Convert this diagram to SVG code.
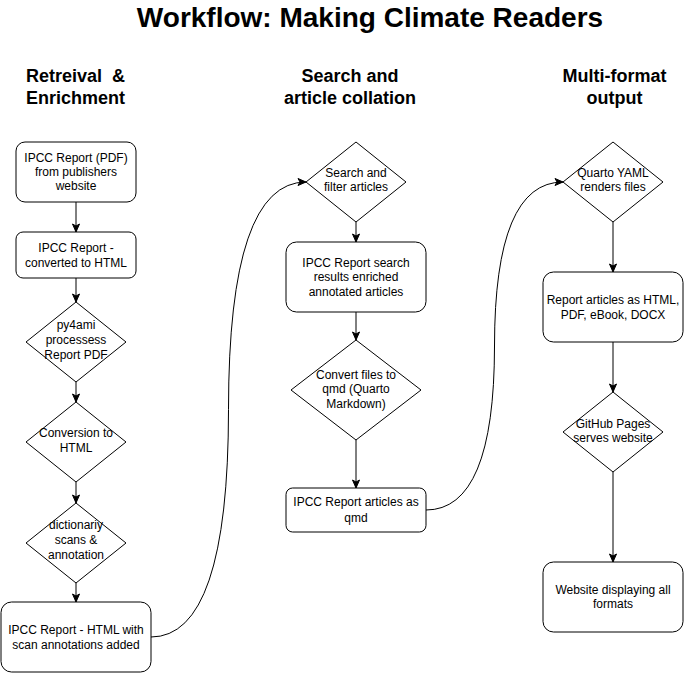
<svg xmlns="http://www.w3.org/2000/svg" width="686" height="673" viewBox="0 0 686 673">
<style>
.box{fill:#ffffff;stroke:#000000;stroke-width:1}
.t{font-family:"Liberation Sans",Arial,sans-serif;font-size:12px;fill:#000000;text-anchor:middle}
.h{font-family:"Liberation Sans",Arial,sans-serif;font-size:18px;font-weight:bold;fill:#000000;text-anchor:middle}
.title{font-family:"Liberation Sans",Arial,sans-serif;font-size:28px;font-weight:bold;fill:#000000;text-anchor:middle}
.edge{fill:none;stroke:#000000;stroke-width:1;marker-end:url(#arrow)}
</style>
<defs>
<marker id="arrow" markerUnits="userSpaceOnUse" markerWidth="10" markerHeight="10" viewBox="0 0 10 10" refX="9" refY="5" orient="auto">
<path d="M1,1.5 L9,5 L1,8.5 L3,5 Z" fill="#000000" stroke="#000000" stroke-width="1"/>
</marker>
</defs>
<rect width="686" height="673" fill="#ffffff"/>
<text class="title" x="370" y="27">Workflow: Making Climate Readers</text>
<g id="header-left"><text class="h" x="75.5" y="82" xml:space="preserve">Retreival  &amp;</text><text class="h" x="75.5" y="104">Enrichment</text></g>
<g id="header-middle"><text class="h" x="350" y="82">Search and</text><text class="h" x="350" y="104">article collation</text></g>
<g id="header-right"><text class="h" x="614.5" y="82">Multi-format</text><text class="h" x="614.5" y="104">output</text></g>

<g id="connectors">
<path class="edge" d="M76,202 L76,232"/>
<path class="edge" d="M76,278 L76,302"/>
<path class="edge" d="M76,382 L76,402"/>
<path class="edge" d="M76,482 L76,503"/>
<path class="edge" d="M76,583 L76,602"/>
<path class="edge" d="M151,637 Q228.5,637 228.5,409.5 Q228.5,182 306,182"/>
<path class="edge" d="M356,222 L356,242"/>
<path class="edge" d="M356,312 L356,340"/>
<path class="edge" d="M356,440 L356,488"/>
<path class="edge" d="M426,510 Q494.5,510 494.5,346 Q494.5,182 563,182"/>
<path class="edge" d="M613,222 L613,272"/>
<path class="edge" d="M613,342 L613,392"/>
<path class="edge" d="M613,472 L613,562"/>
</g>

<g id="n-pdf"><rect class="box" x="16" y="142" width="120" height="60" rx="9"/>
<text class="t" x="76" y="162">IPCC Report (PDF)</text><text class="t" x="76" y="176">from publishers</text><text class="t" x="76" y="190">website</text></g>
<g id="n-html"><rect class="box" x="16" y="232" width="120" height="46" rx="7"/>
<text class="t" x="76" y="252">IPCC Report -</text><text class="t" x="76" y="267">converted to HTML</text></g>
<g id="n-py4ami"><polygon class="box" points="76,302 126,342 76,382 26,342"/>
<text class="t" x="76" y="329">py4ami</text><text class="t" x="76" y="344">processess</text><text class="t" x="76" y="359">Report PDF</text></g>
<g id="n-conv"><polygon class="box" points="76,402 126,442 76,482 26,442"/>
<text class="t" x="76" y="437">Conversion to</text><text class="t" x="76" y="452">HTML</text></g>
<g id="n-dict"><polygon class="box" points="76,503 126,543 76,583 26,543"/>
<text class="t" x="76" y="529">dictionariy</text><text class="t" x="76" y="544">scans &amp;</text><text class="t" x="76" y="559">annotation</text></g>
<g id="n-annot"><rect class="box" x="1" y="602" width="150" height="70" rx="10.5"/>
<text class="t" x="76" y="634">IPCC Report - HTML with</text><text class="t" x="76" y="649">scan annotations added</text></g>

<g id="n-search"><polygon class="box" points="356,142 406,182 356,222 306,182"/>
<text class="t" x="356" y="177">Search and</text><text class="t" x="356" y="191">filter articles</text></g>
<g id="n-results"><rect class="box" x="286" y="242" width="140" height="70" rx="10.5"/>
<text class="t" x="356" y="267">IPCC Report search</text><text class="t" x="356" y="281">results enriched</text><text class="t" x="356" y="296">annotated articles</text></g>
<g id="n-qmdconv"><polygon class="box" points="356,340 421,390 356,440 291,390"/>
<text class="t" x="356" y="379">Convert files to</text><text class="t" x="356" y="393">qmd (Quarto</text><text class="t" x="356" y="408">Markdown)</text></g>
<g id="n-qmd"><rect class="box" x="286" y="488" width="140" height="44" rx="6.6"/>
<text class="t" x="356" y="506">IPCC Report articles as</text><text class="t" x="356" y="522">qmd</text></g>

<g id="n-quarto"><polygon class="box" points="613,142 663,182 613,222 563,182"/>
<text class="t" x="613" y="177">Quarto YAML</text><text class="t" x="613" y="191">renders files</text></g>
<g id="n-formats"><rect class="box" x="543" y="272" width="140" height="70" rx="10.5"/>
<text class="t" x="613" y="304">Report articles as HTML,</text><text class="t" x="613" y="319">PDF, eBook, DOCX</text></g>
<g id="n-pages"><polygon class="box" points="613,392 663,432 613,472 563,432"/>
<text class="t" x="613" y="428">GitHub Pages</text><text class="t" x="613" y="442">serves website</text></g>
<g id="n-website"><rect class="box" x="543" y="562" width="140" height="70" rx="10.5"/>
<text class="t" x="613" y="594">Website displaying all</text><text class="t" x="613" y="608">formats</text></g>
</svg>
